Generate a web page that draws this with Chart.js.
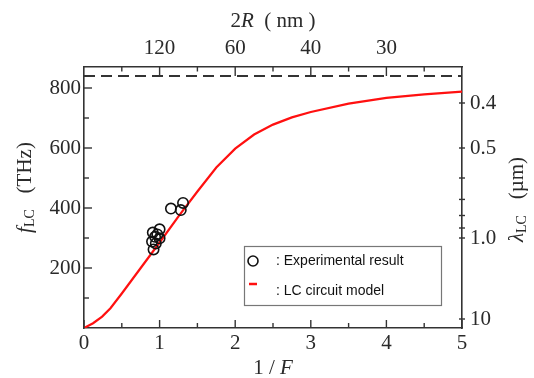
<!DOCTYPE html>
<html><head><meta charset="utf-8">
<script src="https://cdn.jsdelivr.net/npm/chart.js@4"></script>
<style>html,body{margin:0;padding:0;background:#fff}</style>
</head><body>
<canvas id="c" width="534" height="378" style="width:534px;height:378px;display:block"></canvas>
<script>
// ---- data ----
const modelX = [0, 0.12, 0.24, 0.35, 0.5, 0.75, 1.0, 1.25, 1.5, 1.75, 2.0, 2.25, 2.5, 2.75, 3.0, 3.5, 4.0, 4.5, 5.0];
const modelF = [0, 16, 38, 66, 115, 200, 285, 372, 455, 535, 598, 645, 678, 702, 720, 748, 767, 779, 788];
const expX = [0.91, 1.0, 0.94, 1.0, 0.9, 0.95, 0.92, 0.97, 1.15, 1.28, 1.31];
const expF = [318, 329, 304, 299, 288, 282, 262, 312, 398, 393, 417];
const limitF = 840;
const xTicks = [0, 0.5, 1, 1.5, 2, 2.5, 3, 3.5, 4, 4.5, 5];
const xLabels = ['0', '', '1', '', '2', '', '3', '', '4', '', '5'];
const topTicks = [0.5, 1, 1.5, 2, 2.5, 3, 3.5, 4, 4.5];
const topLabels = ['', '120', '', '60', '', '40', '', '30', ''];
const fTicks = [100, 200, 300, 400, 500, 600, 700, 800];
const fLabels = ['', '200', '', '400', '', '600', '', '800'];
const lambdaTicks = [0.4, 0.5, 0.6, 0.7, 0.8, 0.9, 1.0, 10];
const lambdaLabels = ['0.4', '0.5', '', '', '', '', '1.0', '10'];

const SERIF = 'Liberation Serif';
const SANS = 'Liberation Sans';
const INK = '#2a2a2a';

const tickFont = { family: SERIF, size: 21 };

function axisBase(extra) {
  return Object.assign({
    type: 'linear',
    grid: { display: false, drawTicks: false },
    border: { display: true, color: '#333', width: 1.6 },
  }, extra);
}

const inTicks = {
  id: 'inTicks',
  afterDraw(chart) {
    const ctx = chart.ctx, a = chart.chartArea;
    ctx.save();
    ctx.strokeStyle = '#333';
    ctx.lineWidth = 1.4;
    const draw = (x1, y1, x2, y2) => { ctx.beginPath(); ctx.moveTo(x1, y1); ctx.lineTo(x2, y2); ctx.stroke(); };
    chart.scales.x.ticks.forEach(t => {
      const p = chart.scales.x.getPixelForValue(t.value);
      const L = t.label ? 8 : 5;
      draw(p, a.bottom, p, a.bottom - L);
    });
    chart.scales.x2.ticks.forEach(t => {
      const p = chart.scales.x2.getPixelForValue(t.value);
      const L = t.label ? 9 : 4.5;
      draw(p, a.top, p, a.top + L);
    });
    chart.scales.y.ticks.forEach(t => {
      const p = chart.scales.y.getPixelForValue(t.value);
      const L = t.label ? 8 : 5;
      draw(a.left, p, a.left + L, p);
    });
    chart.scales.y2.ticks.forEach(t => {
      const p = chart.scales.y2.getPixelForValue(t.value);
      draw(a.right - 3, p, a.right + 3, p);
    });
    ctx.restore();
  }
};

function drawRich(ctx, parts, cx, cy, rot) {
  ctx.save();
  ctx.translate(cx, cy);
  ctx.rotate(rot);
  let w = 0;
  parts.forEach(p => { ctx.font = p.font; p.w = ctx.measureText(p.text).width; w += p.w; });
  let x = -w / 2;
  ctx.fillStyle = INK;
  ctx.textBaseline = 'middle';
  ctx.textAlign = 'left';
  parts.forEach(p => { ctx.font = p.font; ctx.fillText(p.text, x, p.dy || 0); x += p.w; });
  ctx.restore();
}

const titles = {
  id: 'titles',
  afterDraw(chart) {
    const ctx = chart.ctx, a = chart.chartArea;
    const N = '21px "' + SERIF + '"', I = 'italic 21px "' + SERIF + '"', S = '14px "' + SERIF + '"';
    const cx = (a.left + a.right) / 2;
    drawRich(ctx, [{ text: '2', font: N }, { text: 'R', font: I }, { text: '  ( nm )', font: N }], cx, 21, 0);
    drawRich(ctx, [{ text: '1 / ', font: N }, { text: 'F', font: I }], cx, 368, 0);
    const cy = (a.top + a.bottom) / 2;
    drawRich(ctx, [{ text: 'f', font: I }, { text: 'LC', font: S, dy: 5 }, { text: '   (THz)', font: N }], 25, cy - 10, -Math.PI / 2);
    drawRich(ctx, [{ text: 'λ', font: I }, { text: 'LC', font: S, dy: 5 }, { text: '   (µm)', font: N }], 517, cy + 2, -Math.PI / 2);
  }
};

const legendBox = {
  id: 'legendBox',
  afterDraw(chart) {
    const ctx = chart.ctx, a = chart.chartArea;
    const bx = a.left + 160, by = a.bottom - 82, bw = 197, bh = 59;
    ctx.save();
    ctx.fillStyle = '#fff';
    ctx.fillRect(bx, by, bw, bh);
    ctx.strokeStyle = '#777';
    ctx.lineWidth = 1.2;
    ctx.strokeRect(bx + 0.5, by + 0.5, bw, bh);
    const exp = chart.data.datasets[0], mod = chart.data.datasets[1];
    ctx.beginPath();
    ctx.arc(bx + 9, by + 15, 5, 0, Math.PI * 2);
    ctx.strokeStyle = exp.borderColor; ctx.lineWidth = 1.6; ctx.stroke();
    ctx.beginPath();
    ctx.moveTo(bx + 5, by + 38); ctx.lineTo(bx + 13, by + 38);
    ctx.strokeStyle = mod.borderColor; ctx.lineWidth = 2.5; ctx.stroke();
    ctx.fillStyle = '#111';
    ctx.font = '14px "' + SANS + '"';
    ctx.textBaseline = 'middle';
    ctx.fillText(': Experimental result', bx + 32, by + 15);
    ctx.fillText(': LC circuit model', bx + 32, by + 45);
    ctx.restore();
  }
};

new Chart(document.getElementById('c'), {
  type: 'scatter',
  data: {
    datasets: [
      {
        label: 'Experimental result',
        data: expX.map((x, i) => ({ x, y: expF[i] })),
        borderColor: '#111', backgroundColor: 'rgba(0,0,0,0)',
        pointRadius: 5.2, pointBorderWidth: 1.6, showLine: false, order: 0
      },
      {
        label: 'LC circuit model',
        data: modelX.map((x, i) => ({ x, y: modelF[i] })),
        borderColor: '#ff1010', borderWidth: 2.2, pointRadius: 0, showLine: true, tension: 0, order: 1
      },
      {
        label: 'limit',
        data: [{ x: 0, y: limitF }, { x: 5, y: limitF }],
        borderColor: '#333', borderWidth: 2, borderDash: [11, 6], pointRadius: 0, showLine: true, order: 2
      }
    ]
  },
  options: {
    responsive: false, animation: false, devicePixelRatio: 1,
    layout: { padding: 0 },
    plugins: { legend: { display: false }, tooltip: { enabled: false } },
    scales: {
      x: axisBase({
        position: 'bottom', min: 0, max: 5,
        afterBuildTicks: s => { s.ticks = xTicks.map(v => ({ value: v })); },
        ticks: { autoSkip: false, maxRotation: 0, padding: 3, color: INK, font: tickFont, callback: (v, i) => xLabels[i] },
        afterFit: s => { s.height = 50; }
      }),
      x2: axisBase({
        axis: 'x', position: 'top', min: 0, max: 5,
        afterBuildTicks: s => { s.ticks = topTicks.map(v => ({ value: v })); },
        ticks: { autoSkip: false, maxRotation: 0, padding: 6, color: INK, font: tickFont, callback: (v, i) => topLabels[i] },
        afterFit: s => { s.height = 67; }
      }),
      y: axisBase({
        position: 'left', min: 0, max: 870,
        afterBuildTicks: s => { s.ticks = fTicks.map(v => ({ value: v })); },
        ticks: { autoSkip: false, padding: 3, color: INK, font: tickFont, callback: (v, i) => fLabels[i] },
        afterFit: s => { s.width = 84; }
      }),
      y2: axisBase({
        axis: 'y', position: 'right', min: 0, max: 870,
        afterBuildTicks: s => { s.ticks = lambdaTicks.map(l => ({ value: 300 / l })); },
        ticks: { autoSkip: false, padding: 8, color: INK, font: tickFont, callback: (v, i) => lambdaLabels[i] },
        afterFit: s => { s.width = 72; }
      })
    }
  },
  plugins: [inTicks, titles, legendBox]
});
</script>
</body></html>
